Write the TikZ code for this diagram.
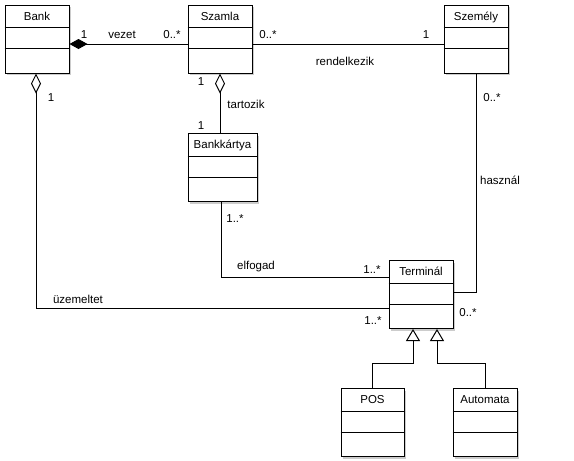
\documentclass[tikz,border=0pt]{standalone}
\usepackage{fontspec}
\setmainfont{Liberation Sans}
\usetikzlibrary{arrows.meta, shadows}

\begin{document}
\begin{tikzpicture}[x=1pt, y=-1pt,
    font=\fontsize{11.5}{13}\selectfont,
    cls/.style={rectangle, draw, line width=1pt, fill=white, minimum width=64pt,
                minimum height=68pt, inner sep=0pt,
                drop shadow={shadow xshift=2pt, shadow yshift=-2pt, fill=black!20, opacity=1}},
    ttl/.style={inner sep=0pt, text height=8pt, text depth=0pt},
    lbl/.style={inner sep=0pt, text height=8pt, text depth=0pt},
    conn/.style={line width=1pt},
    comp/.style={conn, {Diamond[length=18pt, width=10pt]}-},
    agg/.style={conn, {Diamond[open, fill=white, length=20pt, width=10pt]}-},
    gen/.style={conn, -{Triangle[open, fill=white, length=12pt, width=14pt]}}]
  \fill[white] (0,0) rectangle (574,461);
  \useasboundingbox (0,0) rectangle (574,461);
  % classes
  \foreach \nm/\tx/\cx/\cy/\w in {bank/Bank/37/39/64, szamla/Szamla/220/39/64,
      szemely/Személy/476/39/64, kartya/Bankkártya/222.5/167.5/69,
      term/Terminál/421/294.5/64, pos/POS/372.5/422.5/63, auto/Automata/485/422.5/64} {
    \node[cls, minimum width=\w pt] (\nm) at (\cx,\cy) {};
    \node[ttl] (\nm-t) at ([yshift=-11.5pt]\nm.north) {\tx};
    \draw[conn] ([yshift=-23pt]\nm.north west) -- ([yshift=-23pt]\nm.north east)
                ([yshift=-44pt]\nm.north west) -- ([yshift=-44pt]\nm.north east);
  }
  % associations
  \draw[comp] ([yshift=-5pt]bank.east) -- ([yshift=-5pt]szamla.west);
  \draw[conn] ([yshift=-5pt]szamla.east) -- ([yshift=-5pt]szemely.west);
  \draw[agg] (szamla.south) -- (szamla.south |- kartya.north);
  \draw[agg] ([xshift=-1pt]bank.south) |- ([yshift=-13.5pt]term.west);
  \draw[conn] ([xshift=-1.5pt]kartya.south) |- ([yshift=17.5pt]term.west);
  \draw[conn] (szemely.south) |- ([yshift=2.5pt]term.east);
  % generalization
  \draw[gen] (pos.north) -- ++(0,-25) -| ([xshift=-8pt]term.south);
  \draw[gen] (auto.north) -- ++(0,-25) -| ([xshift=16pt]term.south);
  % labels
  \node[lbl] (l-vez1) at (84,34) {1};
  \node[lbl] (l-vez) at (122,34) {vezet};
  \node[lbl] (l-vez2) at (172,34) {0..*};
  \node[lbl] (l-ren1) at (268,34) {0..*};
  \node[lbl] (l-ren) at (345,61) {rendelkezik};
  \node[lbl] (l-ren2) at (426,34) {1};
  \node[lbl] (l-tar1) at (201,81) {1};
  \node[lbl] (l-tar) at (246,104) {tartozik};
  \node[lbl] (l-tar2) at (201,125) {1};
  \node[lbl] (l-uz1) at (51,97) {1};
  \node[lbl] (l-has1) at (492,97) {0..*};
  \node[lbl] (l-has) at (500,180) {használ};
  \node[lbl] (l-elf1) at (235,218) {1..*};
  \node[lbl] (l-elf) at (256,265) {elfogad};
  \node[lbl] (l-elf2) at (372,269) {1..*};
  \node[lbl] (l-uz2) at (373,320) {1..*};
  \node[lbl] (l-has2) at (468,312) {0..*};
  \node[lbl] (l-uz) at (78,299) {üzemeltet};
\end{tikzpicture}
\end{document}
